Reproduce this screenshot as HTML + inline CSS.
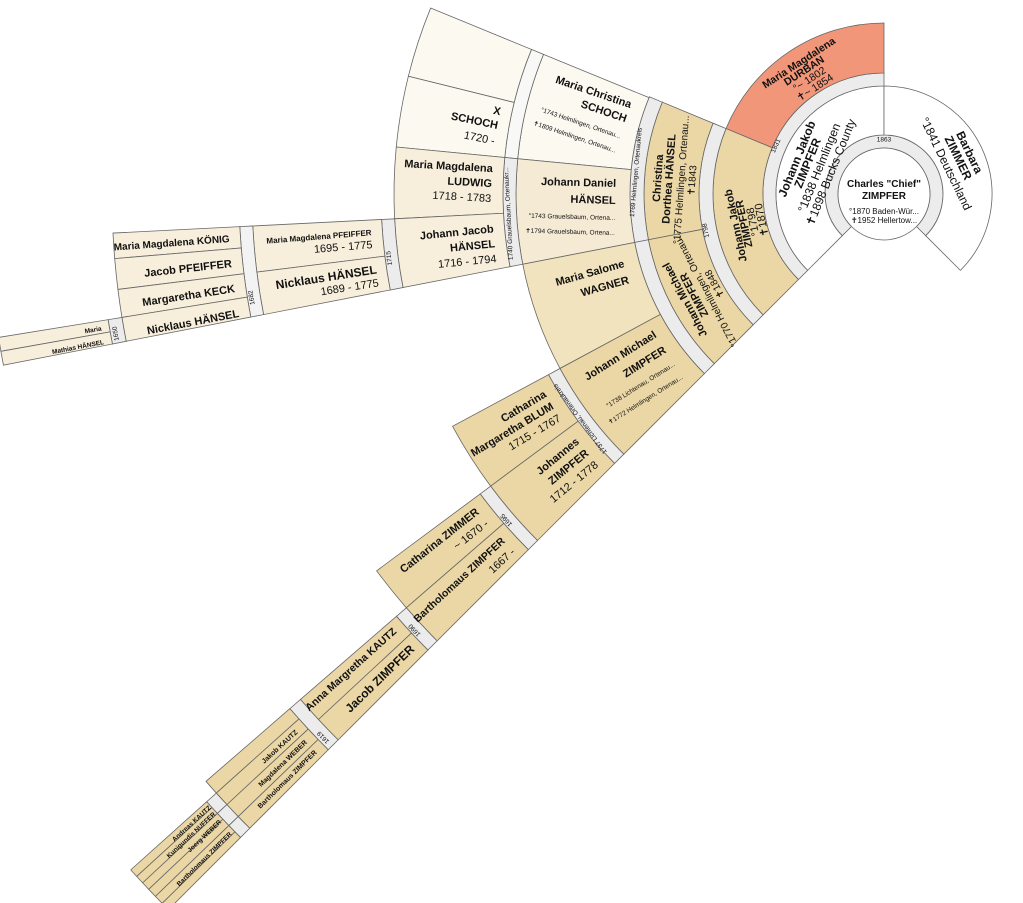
<!DOCTYPE html>
<html><head><meta charset="utf-8"><style>
html,body{margin:0;padding:0;background:#fff;}
svg{display:block;font-family:"Liberation Sans",Arial,sans-serif;}
text{fill:#111;}
.b{font-weight:bold;}
</style></head><body>
<svg id="s" width="1023" height="903" viewBox="0 0 1023 903" xmlns="http://www.w3.org/2000/svg">
<g id="shapes" stroke="#666" stroke-width="0.8"></g>
<g id="texts">
<text text-anchor="middle" font-size="10" class="b" x="884" y="187">Charles "Chief"</text>
<text text-anchor="middle" font-size="10" class="b" x="884" y="199">ZIMPFER</text>
<text text-anchor="middle" font-size="8" x="884" y="214">°1870 Baden-Wür...</text>
<text text-anchor="middle" font-size="8" x="884" y="223">✝1952 Hellertow...</text>

<text pol="52.5,270,t" text-anchor="middle" font-size="6.5">1863</text>
<text pol="90,202,t" text-anchor="middle" font-size="12"><tspan class="b">Johann Jakob</tspan><tspan x="0" dy="11.5" class="b">ZIMPFER</tspan><tspan x="0" dy="12.5">°1838 Helmlingen</tspan><tspan x="0" dy="12.5">✝1898 Bucks County</tspan></text>
<text pol="91,334,t" text-anchor="middle" font-size="12"><tspan class="b">Barbara</tspan><tspan x="0" dy="12.5" class="b">ZIMMER</tspan><tspan x="0" dy="13.5">°1841 Deutschland</tspan></text>
<text pol="116.5,204,t" text-anchor="middle" font-size="6.5">1831</text>
<text pol="153,237,t" text-anchor="middle" font-size="10.5"><tspan class="b">Maria Magdalena</tspan><tspan x="0" dy="9.5" class="b">DURBAN</tspan><tspan x="0" dy="10">°~ 1802</tspan><tspan x="0" dy="10">✝~ 1854</tspan></text>
<text pol="148,168,t" text-anchor="middle" font-size="11"><tspan class="b">Johann Jakob</tspan><tspan x="0" dy="8.5" class="b">ZIMPFER</tspan><tspan x="0" dy="9">°1798</tspan><tspan x="0" dy="9">✝1870</tspan></text>
<text pol="180,168.4,t" text-anchor="middle" font-size="6.5">1798</text>
<text pol="223,184,t" text-anchor="middle" font-size="10"><tspan class="b" font-size="11">Christina</tspan><tspan x="0" dy="11" class="b" font-size="11">Dorthea HÄNSEL</tspan><tspan x="0" dy="12">°1775 Helmlingen, Ortenau...</tspan><tspan x="0" dy="11">✝1843</tspan></text>
<text pol="222,152,t" text-anchor="middle" font-size="10"><tspan class="b" font-size="11">Johann Michael</tspan><tspan x="0" dy="10.5" class="b" font-size="11">ZIMPFER</tspan><tspan x="0" dy="12">°1770 Helmlingen, Ortenau...</tspan><tspan x="0" dy="11">✝1848</tspan></text>
<text pol="247,185,t" text-anchor="middle" font-size="6.5">1769 Helmlingen, Ortenaukreis</text>

<text pol="268,198.7,r" text-anchor="end" font-size="11"><tspan class="b">Maria Christina</tspan><tspan x="0" dy="15" class="b">SCHOCH</tspan><tspan x="0" dy="17" font-size="6.5">°1743 Helmlingen, Ortenau...</tspan><tspan x="0" dy="15" font-size="6.5">✝1809 Helmlingen, Ortenau...</tspan></text>
<text pol="268,181.5,r" text-anchor="end" font-size="11"><tspan class="b">Johann Daniel</tspan><tspan x="0" dy="17" class="b">HÄNSEL</tspan><tspan x="0" dy="16" font-size="6.5">°1743 Grauelsbaum, Ortena...</tspan><tspan x="0" dy="15" font-size="6.5">✝1794 Grauelsbaum, Ortena...</tspan></text>
<text pol="269,164.3,r" text-anchor="end" font-size="11"><tspan class="b">Maria Salome</tspan><tspan x="0" dy="17" class="b">WAGNER</tspan></text>
<text pol="268,147.8,r" text-anchor="end" font-size="11"><tspan class="b">Johann Michael</tspan><tspan x="0" dy="18" class="b">ZIMPFER</tspan><tspan x="0" dy="16" font-size="6.5">°1738 Lichtenau, Ortenau...</tspan><tspan x="0" dy="15" font-size="6.5">✝1772 Helmlingen, Ortenau...</tspan></text>
<text pol="374,177,t" text-anchor="middle" font-size="6.5">1740 Grauelsbaum, Ortenaukr...</text>
<text pol="376,143.5,t" text-anchor="middle" font-size="6.5">1737 Lichtenau, Ortenaukreis</text>

<text pol="392,191.6,r" text-anchor="end" font-size="11"><tspan class="b">X</tspan><tspan x="0" dy="14" class="b">SCHOCH</tspan><tspan x="0" dy="16">1720 -</tspan></text>
<text pol="392,183.2,r" text-anchor="end" font-size="11"><tspan class="b">Maria Magdalena</tspan><tspan x="0" dy="15" class="b">LUDWIG</tspan><tspan x="0" dy="15">1718 - 1783</tspan></text>
<text pol="392,174.4,r" text-anchor="end" font-size="11"><tspan class="b">Johann Jacob</tspan><tspan x="0" dy="15" class="b">HÄNSEL</tspan><tspan x="0" dy="15">1716 - 1794</tspan></text>
<text pol="393,149,r" text-anchor="end" font-size="11"><tspan class="b">Catharina</tspan><tspan x="0" dy="14" class="b">Margaretha BLUM</tspan><tspan x="0" dy="14">1715 - 1767</tspan></text>
<text pol="393,140.7,r" text-anchor="end" font-size="11"><tspan class="b">Johannes</tspan><tspan x="0" dy="15" class="b">ZIMPFER</tspan><tspan x="0" dy="15">1712 - 1778</tspan></text>
<text pol="497,172.6,t" text-anchor="middle" font-size="6.5">1715</text>
<text pol="497,139.2,t" text-anchor="middle" font-size="6.5">1695</text>

<text pol="514,175.4,r" text-anchor="end" font-size="8"><tspan class="b">Maria Magdalena PFEIFFER</tspan><tspan x="0" dy="13" font-size="11">1695 - 1775</tspan></text>
<text pol="513,171.1,r" text-anchor="end" font-size="12"><tspan class="b">Nicklaus HÄNSEL</tspan><tspan x="0" dy="13" font-size="11">1689 - 1775</tspan></text>
<text pol="515,141.7,r" text-anchor="end" font-size="11"><tspan class="b">Catharina ZIMMER</tspan><tspan x="0" dy="15">~ 1670 -</tspan></text>
<text pol="514,137.4,r" text-anchor="end" font-size="10.5"><tspan class="b">Bartholomaus ZIMPFER</tspan><tspan x="0" dy="15" font-size="11">1667 -</tspan></text>
<text pol="639,170.7,t" text-anchor="middle" font-size="6.5">1682</text>
<text pol="639,137.1,t" text-anchor="middle" font-size="6.5">1690</text>

<text pol="656,175.8,r" text-anchor="end" font-size="10" class="b">Maria Magdalena KÖNIG</text>
<text pol="656,173.6,r" text-anchor="end" font-size="11" class="b">Jacob PFEIFFER</text>
<text pol="656,171.4,r" text-anchor="end" font-size="11" class="b">Margaretha KECK</text>
<text pol="656,169.2,r" text-anchor="end" font-size="11" class="b">Nicklaus HÄNSEL</text>
<text pol="655,138,r" text-anchor="end" font-size="10.5" class="b">Anna Margretha KAUTZ</text>
<text pol="654,135.8,r" text-anchor="end" font-size="12" class="b">Jacob ZIMPFER</text>
<text pol="779,169.7,t" text-anchor="middle" font-size="6.5">1650</text>
<text pol="779,135.9,t" text-anchor="middle" font-size="6.5">1619</text>

<text pol="794,170.1,r" text-anchor="end" font-size="6.5" class="b">Maria</text>
<text pol="794,169.1,r" text-anchor="end" font-size="6.5" class="b">Mathias HÄNSEL</text>
<text pol="796,137.4,r" text-anchor="end" font-size="7" class="b">Jakob KAUTZ</text>
<text pol="796,136.4,r" text-anchor="end" font-size="7" class="b">Magdalena WEBER</text>
<text pol="796,135.4,r" text-anchor="end" font-size="7" class="b">Bartholomaus ZIMPFER</text>
<text pol="911,137.6,r" text-anchor="end" font-size="6.5" class="b">Andreas KAUTZ</text>
<text pol="912,137.1,r" text-anchor="end" font-size="6.5" class="b">Kunigundis NUFFER</text>
<text pol="913,136.5,r" text-anchor="end" font-size="6.5" class="b">Joerg WEBER</text>
<text pol="914,135.5,r" text-anchor="end" font-size="6.5" class="b">Bartholomaus ZIMPFER</text>
</g>
</svg>
<script>
(function(){
var CX=884,CY=194,NS="http://www.w3.org/2000/svg";
function P(r,a){a=a*Math.PI/180;return [CX+r*Math.cos(a),CY+r*Math.sin(a)];}
var g=document.getElementById("shapes");
function sec(r1,r2,a1,a2,f){
  var L=(a2-a1)>180?1:0,p1=P(r2,a1),p2=P(r2,a2),p3=P(r1,a2),p4=P(r1,a1);
  var d="M"+p1+" A"+r2+" "+r2+" 0 "+L+" 1 "+p2+" L"+p3+" A"+r1+" "+r1+" 0 "+L+" 0 "+p4+" Z";
  var e=document.createElementNS(NS,"path");e.setAttribute("d",d);e.setAttribute("fill",f);g.appendChild(e);
}
var W="#ffffff",G="#ececec",T="#ebd7a5",S="#f29679",WG="#f1e3bd",H="#f7eedb",HD="#f5ead4",SC="#fcf9f1";
var list=[
[46,59,135,405,G],[59,108,135,270,W],[59,108,270,405,W],[108,121,135,270,G],
[121,171,202.5,270,S],[121,171,135,202.5,T],[171,185,135,202.5,G],
[185,240,169,202.5,T],[185,240,135,169,T],[240,254,169,202.5,G],[240,254,135,169,G],
[254,368,185.5,202.3,SC],[254,368,169,185.5,HD],[254,368,151.7,169,WG],[254,368,135,151.7,T],
[368,381,185.5,202.3,"#f8f8f6"],[368,381,169,185.5,G],[368,381,135,151.7,G],
[381,490,193.9,202.3,SC],[381,490,185.5,193.9,SC],[381,490,177.1,185.5,H],[381,490,169,177.1,H],
[381,490,143.4,151.7,T],[381,490,135,143.4,T],
[490,503,169,177.1,G],[490,503,135,143.4,G],
[503,632,172.9,177.1,H],[503,632,169,172.9,H],[503,632,139.1,143.4,T],[503,632,135,139.1,T],
[632,645,169,177.1,"#f3f3f3"],[632,645,135,139.1,G],
[645,772,175.2,177.1,H],[645,772,172.9,175.2,H],[645,772,170.8,172.9,H],[645,772,169,170.8,H],
[645,772,137.1,139.1,T],[645,772,135,137.1,T],
[772,786,169,170.8,G],[772,786,135,139.1,G],
[786,897,169.9,170.8,H],[786,897,169,169.9,H],
[786,897,138.1,139.1,T],[786,897,137.1,138.1,T],[786,897,136.05,137.1,T],[786,897,135,136.05,T],
[897,910,137.1,138.1,G],[897,910,136.05,137.1,G],[897,910,135,136.05,G],
[910,1012,137.6,138.1,T],[910,1012,137.1,137.6,T],[910,1012,136.6,137.1,T],[910,1012,136.05,136.6,T],[910,1012,135.5,136.05,T],[910,1012,135,135.5,T]
];
list.forEach(function(s){sec(s[0],s[1],s[2],s[3],s[4]);});
var c=document.createElementNS(NS,"circle");c.setAttribute("cx",CX);c.setAttribute("cy",CY);c.setAttribute("r",46);c.setAttribute("fill","#fff");g.appendChild(c);
var ts=document.querySelectorAll("text[pol]");
for(var i=0;i<ts.length;i++){
  var v=ts[i].getAttribute("pol").split(","),r=+v[0],a=+v[1],m=v[2];
  var p=P(r,a),rot=(m=="t")?a+90:a-180;
  ts[i].setAttribute("transform","translate("+p[0].toFixed(1)+","+p[1].toFixed(1)+") rotate("+rot+")");
  ts[i].setAttribute("x","0");ts[i].setAttribute("y","0");
}
})();
</script>
</body></html>
